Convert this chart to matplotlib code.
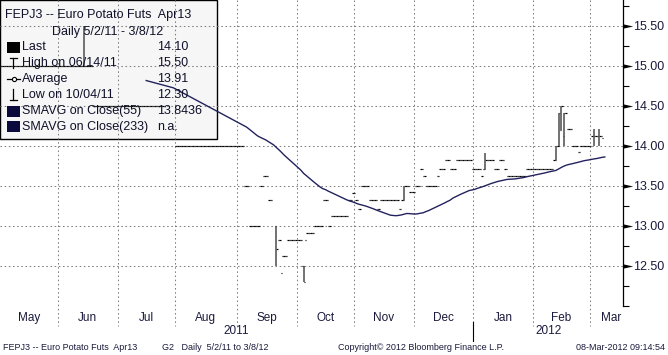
import numpy as np
import pandas as pd
import matplotlib
matplotlib.use("Agg")
import matplotlib.pyplot as plt
from matplotlib.collections import LineCollection
from matplotlib.lines import Line2D
from matplotlib.patches import Rectangle
from matplotlib.path import Path
from matplotlib.ticker import MultipleLocator, FixedLocator
import matplotlib.transforms as mtransforms

plt.rcParams['font.family'] = ['Liberation Sans', 'DejaVu Sans']

nan = np.nan

# ---------------- data ----------------
start_date = "2011-05-02"
end_date = "2012-03-08"

# daily bars as runs of identical days: (length, open tick, close tick); nan = no trade
run_length = [35, 26, 4, 25, 1, 1, 1, 3, 1, 1, 1, 1, 1, 1,
              1, 1, 1, 1, 1, 5, 1, 1, 2, 1, 2, 1, 1, 1, 1, 6,
              1, 1, 1, 1, 1, 2, 1, 2, 1, 1, 6, 1, 1, 1, 1, 1,
              1, 1, 1, 1, 1, 1, 3, 1, 1, 1, 1, 1, 1, 1, 1, 5,
              1, 3, 1, 1, 2, 1, 1, 1, 1, 1, 1, 6, 1, 9, 1, 1,
              1, 1, 1, 1, 1, 1, 1, 1, 1, 3, 1, 3, 1, 1]
run_open = [15.00, 14.50, nan, 14.00, 14.00, 13.50, 13.50, 13.00, 13.00, 13.50, 13.62, 13.62, 13.32, nan,
            13.00, 12.82, 12.41, 12.62, 12.62, 12.82, 12.50, 12.82, 12.91, 12.91, 13.00, 13.00, 13.32, 13.32, 13.00, 13.12,
            13.32, 13.32, 13.41, 13.32, 13.21, 13.50, 13.50, 13.32, 13.32, 13.21, 13.32, 13.32, 13.21, 13.32, 13.50, 13.50,
            13.42, 13.42, 13.50, 13.50, 13.71, 13.62, 13.50, 13.50, 13.62, 13.71, 13.71, 13.82, 13.82, 13.71, 13.71, 13.82,
            13.82, 13.71, 13.62, 13.71, 13.82, 13.82, 13.71, 13.71, 13.82, 13.82, 13.71, 13.62, 13.62, 13.71, 13.71, 13.82,
            14.00, 14.20, 14.12, 14.41, 14.21, 14.21, 14.00, 14.00, 13.92, 14.00, 14.00, 14.12, 14.12, nan]
run_close = [15.00, 14.50, nan, 14.00, 13.50, 13.50, 13.00, 13.00, 13.50, 13.62, 13.62, 13.32, 13.32, nan,
             12.71, 12.82, 12.62, 12.62, 12.82, 12.82, 12.30, 12.91, 12.91, 13.00, 13.00, 13.32, 13.32, 13.00, 13.12, 13.12,
             13.32, 13.41, 13.32, 13.21, 13.50, 13.50, 13.32, 13.32, 13.21, 13.32, 13.32, 13.21, 13.32, 13.50, 13.50, 13.42,
             13.42, 13.50, 13.50, 13.71, 13.62, 13.50, 13.50, 13.62, 13.71, 13.71, 13.82, 13.82, 13.71, 13.71, 13.82, 13.82,
             13.71, 13.71, 13.71, 13.82, 13.82, 13.71, 13.71, 13.82, 13.82, 13.71, 13.62, 13.62, 13.71, 13.71, 13.82, 14.00,
             14.41, 14.50, 14.41, 14.21, 14.21, 14.00, 14.00, 13.92, 14.00, 14.00, 14.12, 14.12, 14.10, nan]

# days (business-day index) that show a high-low range
bar_day = [31, 102, 112, 149, 179, 205, 206, 207, 208, 219, 221]
bar_high = [15.50, 13.00, 12.50, 13.50, 13.91, 14.00, 14.41, 14.50, 14.41, 14.21, 14.21]
bar_low = [15.00, 12.50, 12.30, 13.32, 13.71, 13.82, 14.00, 14.20, 14.00, 14.00, 14.00]

sma_window = 55
y_ticks = [12.50, 13.00, 13.50, 14.00, 14.50, 15.00, 15.50]
month_names = ["May", "Jun", "Jul", "Aug", "Sep", "Oct", "Nov", "Dec", "Jan", "Feb", "Mar"]
years = ["2011", "2012"]

legend_title = "FEPJ3 -- Euro Potato Futs  Apr13"
legend_sub = "Daily 5/2/11 - 3/8/12"
legend_labels = ["Last", "High on 06/14/11", "Average", "Low on 10/04/11",
                 "SMAVG on Close(55)", "SMAVG on Close(233)"]
legend_values = ["14.10", "15.50", "13.91", "12.30", "13.8436", "n.a."]

footer_left = "FEPJ3 -- Euro Potato Futs  Apr13"
footer_mid = "G2   Daily  5/2/11 to 3/8/12"
footer_copy = "Copyright\u00a9 2012 Bloomberg Finance L.P."
footer_time = "08-Mar-2012 09:14:54"

# ---------------- build series ----------------
dates = pd.bdate_range(start_date, end_date)
N = len(dates)
opens = np.repeat(np.array(run_open, float), run_length)
closes = np.repeat(np.array(run_close, float), run_length)
opens = np.concatenate([opens, np.full(max(0, N - len(opens)), nan)])[:N]
closes = np.concatenate([closes, np.full(max(0, N - len(closes)), nan)])[:N]
idx = np.arange(N)
sma = pd.Series(closes).ffill().rolling(sma_window).mean().values

# ---------------- figure ----------------
W, H = 668, 355
fig = plt.figure(figsize=(W / 100, H / 100), dpi=100)
fig.patch.set_facecolor("white")
ax_h = 306
ax = fig.add_axes([0, 1 - ax_h / H, 623 / W, ax_h / H])
ax.set_facecolor("white")
ax.set_xlim(0.125, 229.7)
ax.set_ylim(12.0, 15.825)

def fx(px):
    return px / W

def fy(py):
    return 1 - py / H

txt = "#1a1a3c"

for s in ["left", "top", "bottom"]:
    ax.spines[s].set_visible(False)
ax.spines["right"].set_color("black")
ax.spines["right"].set_linewidth(0.9)

ax.set_xticks([])
ax.yaxis.tick_right()
ax.yaxis.set_major_locator(FixedLocator(y_ticks))
ax.yaxis.set_major_formatter(plt.FuncFormatter(lambda v, p: f"{v:.2f}"))
ax.yaxis.set_minor_locator(MultipleLocator(0.25))
ax.tick_params(axis="y", which="major", length=0, pad=7.3, labelsize=9, labelcolor=txt)
ax.tick_params(axis="y", which="minor", length=4, width=0.8, color="black", direction="out")
ax.grid(axis="y", which="major", linestyle=(0, (1.5, 2.5)), color="#808080", linewidth=0.75)

# long thin pointer markers at major ticks
pointer = Path([(0, -0.22), (1, 0), (0, 0.22), (0, -0.22)],
               [Path.MOVETO, Path.LINETO, Path.LINETO, Path.CLOSEPOLY])
ytrans = mtransforms.blended_transform_factory(ax.transAxes, ax.transData)
ax.plot([1.0] * len(y_ticks), y_ticks, linestyle="none", marker=pointer, markersize=14,
        color="black", markeredgewidth=0, transform=ytrans, clip_on=False, zorder=5)

# month separators and labels
xtrans_fig = mtransforms.blended_transform_factory(ax.transData, fig.transFigure)
month_starts = [i for i in range(1, N) if dates[i].month != dates[i - 1].month]
seps = [m - 0.5 for m in month_starts]
for sx in seps:
    ax.add_line(Line2D([sx, sx], [fy(0), fy(326)], transform=xtrans_fig,
                       linestyle=(0, (1.5, 2.5)), color="#808080", linewidth=0.75,
                       clip_on=False, zorder=1.5))
bounds = [ax.get_xlim()[0]] + seps + [ax.get_xlim()[1]]
for k, name in enumerate(month_names):
    lo, hi = bounds[k], bounds[k + 1]
    if k == len(month_names) - 1:
        ax.text(hi - 0.8, fy(318), name, transform=xtrans_fig, ha="right", va="center",
                fontsize=8.5, color=txt)
    else:
        ax.text((lo + hi) / 2, fy(318), name, transform=xtrans_fig, ha="center", va="center",
                fontsize=8.5, color=txt)

year_sep = [m - 0.5 for m in month_starts if dates[m].year != dates[m - 1].year][0]
ax.add_line(Line2D([year_sep, year_sep], [fy(322), fy(341)], transform=xtrans_fig,
                   color="black", linewidth=0.8, clip_on=False))
x0, x1 = ax.get_xlim()
ax.text((x0 + year_sep) / 2, fy(331), years[0], transform=xtrans_fig, ha="center",
        va="center", fontsize=8.5, color=txt)
ax.text((year_sep + x1) / 2, fy(331), years[1], transform=xtrans_fig, ha="center",
        va="center", fontsize=8.5, color=txt)

# bars: open tick (left half) and close tick (right half)
segs = []
for i in idx:
    if not np.isnan(opens[i]):
        segs.append([(i - 0.5, opens[i]), (i, opens[i])])
    if not np.isnan(closes[i]):
        segs.append([(i, closes[i]), (i + 0.5, closes[i])])
ax.add_collection(LineCollection(segs, colors="black", linewidths=0.85, zorder=3))
vsegs = [[(d, lo), (d, hi)] for d, hi, lo in zip(bar_day, bar_high, bar_low)]
ax.add_collection(LineCollection(vsegs, colors="#5a5a5a", linewidths=1.2, zorder=3))

# moving average
ax.plot(idx, sma, color="#22225e", linewidth=1.0, zorder=4)

# ---------------- legend box ----------------
ax.add_patch(Rectangle((fx(0), fy(139)), fx(216.5), 139 / H, transform=fig.transFigure,
                       facecolor="#f6f6f6", edgecolor="black", linewidth=1.0,
                       clip_on=False, zorder=1))
tc = "#10102a"
fs = 9
fig.text(fx(5), fy(15), legend_title, fontsize=fs, color=tc, va="center", ha="left", zorder=10)
fig.text(fx(108), fy(31.5), legend_sub, fontsize=fs, color=tc, va="center", ha="center", zorder=10)
row_y = [47.5, 63, 79, 95, 111, 127]
for ry, lab, val in zip(row_y, legend_labels, legend_values):
    fig.text(fx(22), fy(ry), lab, fontsize=fs, color=tc, va="center", ha="left", zorder=10)
    fig.text(fx(157), fy(ry), val, fontsize=fs, color=tc, va="center", ha="left", zorder=10)

# legend icons
fig.add_artist(Rectangle((fx(7), fy(53)), 13 / W, 11 / H, transform=fig.transFigure,
                         facecolor="black", edgecolor="none"))
fig.add_artist(Line2D([fx(9.5), fx(16.5)], [fy(57.5), fy(57.5)], color="black", lw=0.9))
fig.add_artist(Line2D([fx(13), fx(13)], [fy(57.5), fy(68)], color="black", lw=0.9))
fig.add_artist(Line2D([fx(7), fx(20)], [fy(79), fy(79)], color="black", lw=0.9))
fig.add_artist(Line2D([fx(13.5)], [fy(79)], color="black", marker="o", markersize=3,
                      markerfacecolor="white", markeredgewidth=0.8, linestyle="none"))
fig.add_artist(Line2D([fx(13), fx(13)], [fy(89), fy(99.5)], color="black", lw=0.9))
fig.add_artist(Line2D([fx(9.5), fx(16.5)], [fy(99.5), fy(99.5)], color="black", lw=0.9))
for ry in [111, 127]:
    fig.add_artist(Rectangle((fx(7), fy(ry + 5.5)), 13 / W, 11 / H, transform=fig.transFigure,
                             facecolor="#0a0a3c", edgecolor="none"))

# ---------------- footer ----------------
ffs = 6.5
fig.text(fx(3), fy(348), footer_left, fontsize=ffs, color=txt, va="center", ha="left")
fig.text(fx(162), fy(348), footer_mid, fontsize=ffs, color=txt, va="center", ha="left")
fig.text(fx(338), fy(348), footer_copy, fontsize=ffs, color=txt, va="center", ha="left")
fig.text(fx(665), fy(348), footer_time, fontsize=ffs, color=txt, va="center", ha="right")

fig.savefig("out.png", dpi=100)
